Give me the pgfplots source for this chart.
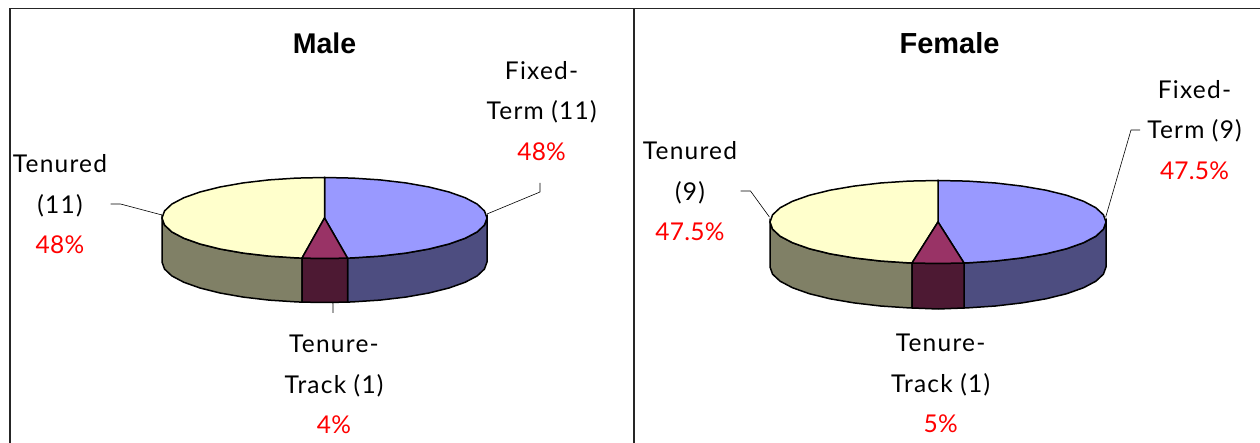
\documentclass[border=0pt]{standalone}
\usepackage{pgfplots}
\usepackage{fontspec}
\pgfplotsset{compat=1.18}
\setmainfont{Lato}
\newfontfamily\lab[LetterSpace=5]{Lato}
\newfontfamily\labr[LetterSpace=1]{Lato}
\newfontfamily\ttl{Liberation Sans}
\definecolor{topB}{HTML}{9999FF}
\definecolor{topY}{HTML}{FFFFCC}
\definecolor{topP}{HTML}{993366}
\definecolor{sideB}{HTML}{4D4D80}
\definecolor{sideY}{HTML}{808066}
\definecolor{sideP}{HTML}{4D1933}
\newcommand{\lb}[3]{\node[anchor=base,inner sep=0pt] at (axis cs:#1,#2) {\fontsize{24.5}{27}\lab #3};}
\newcommand{\lr}[3]{\node[anchor=base,inner sep=0pt,text=red] at (axis cs:#1,#2) {\fontsize{24.5}{27}\labr #3};}
\begin{document}
\begin{tikzpicture}
\begin{axis}[
  width=1260pt,height=443pt,scale only axis,
  xmin=0,xmax=1260,ymin=0,ymax=443,y dir=reverse,
  hide axis,clip=true]
% panel frame
\addplot[draw=none,forget plot] coordinates {(0,0)(1260,443)};
\addplot[black!85,line width=1.5pt] coordinates {(10,443)(10,8.5)(1260,8.5)};
\addplot[black!85,line width=1.2pt] coordinates {(634,8.5)(634,443)};
% ---------- Male: side walls
\addplot[fill=sideB,draw=black,line width=1.5pt] coordinates {(487,218)(484.5,225)(477.2,231.9)(465.2,238.25)(449,244)(429,249)(405.75,253.1)(380.1,256.1)(352.7,257.9)(347.5,258.1)(347.5,302.1)(352.7,301.9)(380.1,300.1)(405.75,297.1)(429,293)(449,288)(465.2,282.25)(477.2,275.9)(484.5,269)(487,262)} --cycle;
\addplot[fill=sideY,draw=black,line width=1.5pt] coordinates {(162,218)(164.5,225)(171.8,231.9)(183.8,238.25)(200,244)(220,249)(243.25,253.1)(268.9,256.1)(296.3,257.9)(302,258.1)(302,302.1)(296.3,301.9)(268.9,300.1)(243.25,297.1)(220,293)(200,288)(183.8,282.25)(171.8,275.9)(164.5,269)(162,262)} --cycle;
\addplot[fill=sideP,draw=black,line width=1.5pt] coordinates {(302,258.1)(324.5,258.5)(347.5,258.1)(347.5,302.1)(324.5,302.5)(302,302.1)} --cycle;
% ---------- Male: top
\addplot[fill=topB,draw=black,line width=1.5pt] coordinates {(324.5,218)(324.5,177.5)(352.7,178.1)(380.1,179.9)(405.75,182.9)(429,187)(449,192)(465.2,197.75)(477.2,204.1)(484.5,211)(487,218)(484.5,225)(477.2,231.9)(465.2,238.25)(449,244)(429,249)(405.75,253.1)(380.1,256.1)(352.7,257.9)(347.5,258.1)} --cycle;
\addplot[fill=topY,draw=black,line width=1.5pt] coordinates {(324.5,218)(302,258.1)(296.3,257.9)(268.9,256.1)(243.25,253.1)(220,249)(200,244)(183.8,238.25)(171.8,231.9)(164.5,225)(162,218)(164.5,211)(171.8,204.1)(183.8,197.75)(200,192)(220,187)(243.25,182.9)(268.9,179.9)(296.3,178.1)(324.5,177.5)} --cycle;
\addplot[fill=topP,draw=black,line width=1.5pt] coordinates {(324.5,218)(347.5,258.1)(324.5,258.5)(302,258.1)} --cycle;
% ---------- Male: leader lines
\addplot[black,line width=.6pt] coordinates {(487,214)(540,192)(540,183)};
\addplot[black,line width=.6pt] coordinates {(162,215)(120.5,204)(110.5,204)};
\addplot[black,line width=.6pt] coordinates {(331.5,302.5)(333,303)(333,313)};
% ---------- Female: side walls
\addplot[fill=sideB,draw=black,line width=1.5pt] coordinates {(1106,222)(1103.4,229.2)(1095.9,236.2)(1083.5,242.75)(1066.7,248.7)(1046,253.8)(1022,257.9)(995.5,261)(967.2,262.9)(964,263)(964,308)(967.2,307.9)(995.5,306)(1022,302.9)(1046,298.8)(1066.7,293.7)(1083.5,287.75)(1095.9,281.2)(1103.4,274.2)(1106,267)} --cycle;
\addplot[fill=sideY,draw=black,line width=1.5pt] coordinates {(770,222)(772.6,229.2)(780.1,236.2)(792.5,242.75)(809.3,248.7)(830,253.8)(854,257.9)(880.5,261)(908.8,262.9)(912,263)(912,308)(908.8,307.9)(880.5,306)(854,302.9)(830,298.8)(809.3,293.7)(792.5,287.75)(780.1,281.2)(772.6,274.2)(770,267)} --cycle;
\addplot[fill=sideP,draw=black,line width=1.5pt] coordinates {(912,263)(938,263.5)(964,263)(964,308)(938,309)(912,308)} --cycle;
% ---------- Female: top
\addplot[fill=topB,draw=black,line width=1.5pt] coordinates {(938,222)(938,180.5)(967.2,181.1)(995.5,183)(1022,186.1)(1046,190.2)(1066.7,195.3)(1083.5,201.25)(1095.9,207.8)(1103.4,214.8)(1106,222)(1103.4,229.2)(1095.9,236.2)(1083.5,242.75)(1066.7,248.7)(1046,253.8)(1022,257.9)(995.5,261)(967.2,262.9)(964,263)} --cycle;
\addplot[fill=topY,draw=black,line width=1.5pt] coordinates {(938,222)(912,263)(908.8,262.9)(880.5,261)(854,257.9)(830,253.8)(809.3,248.7)(792.5,242.75)(780.1,236.2)(772.6,229.2)(770,222)(772.6,214.8)(780.1,207.8)(792.5,201.25)(809.3,195.3)(830,190.2)(854,186.1)(880.5,183)(908.8,181.1)(938,180.5)} --cycle;
\addplot[fill=topP,draw=black,line width=1.5pt] coordinates {(938,222)(964,263)(938,263.5)(912,263)} --cycle;
% ---------- Female: leader lines
\addplot[black,line width=.6pt] coordinates {(1105.7,217)(1131,130)(1140,130)};
\addplot[black,line width=.6pt] coordinates {(769.4,217)(750.5,191)(740.5,191)};
% ---------- titles
\node[anchor=base,inner sep=0pt] at (axis cs:324.5,53.5) {\fontsize{28.5}{30}\ttl\bfseries Male};
\node[anchor=base,inner sep=0pt] at (axis cs:949.5,53.5) {\fontsize{29}{30}\ttl\bfseries Female};
% ---------- labels: Male
\lb{541.6}{79.5}{Fixed-}
\lb{541.6}{120}{Term (11)}
\lr{541.6}{161}{48\%}
\lb{60}{172.5}{Tenured}
\lb{60}{213.5}{(11)}
\lr{60}{254}{48\%}
\lb{334}{352.5}{Tenure-}
\lb{334}{393}{Track (1)}
\lr{334}{433.5}{4\%}
% ---------- labels: Female
\lb{1194.5}{98.5}{Fixed-}
\lb{1194.5}{139}{Term (9)}
\lr{1194.5}{180}{47.5\%}
\lb{690}{159.5}{Tenured}
\lb{690}{200.5}{(9)}
\lr{690}{241}{47.5\%}
\lb{940.6}{351.5}{Tenure-}
\lb{940.6}{392}{Track (1)}
\lr{940.6}{432.5}{5\%}
\end{axis}
\end{tikzpicture}
\end{document}
